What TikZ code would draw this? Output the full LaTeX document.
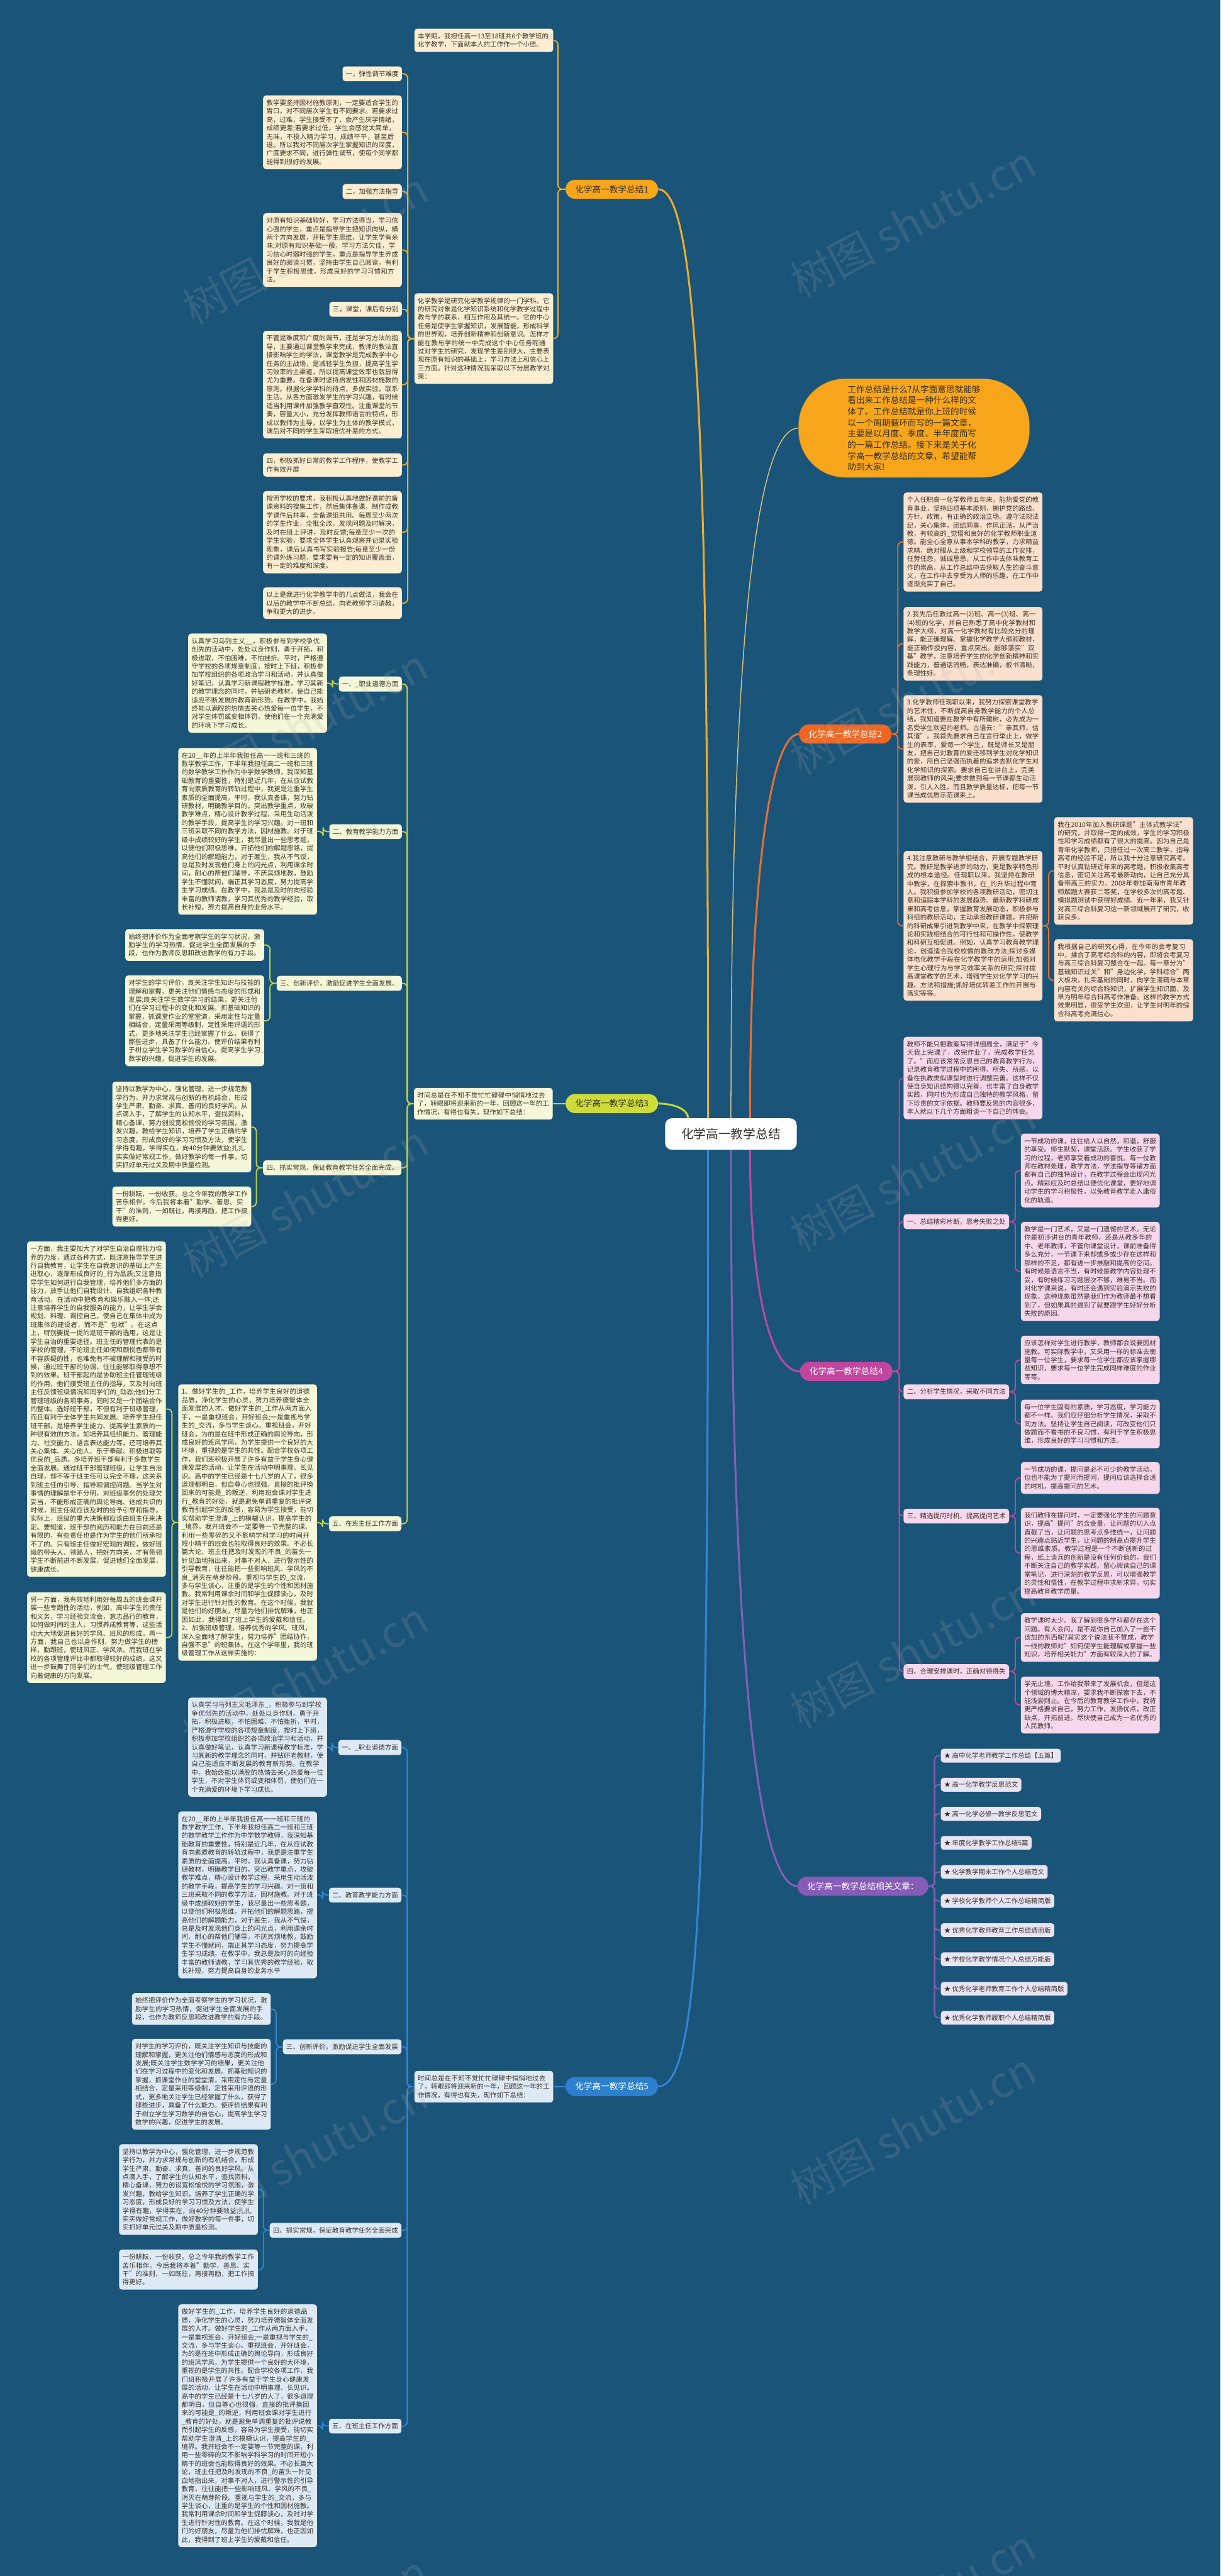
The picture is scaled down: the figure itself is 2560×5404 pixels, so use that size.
\documentclass[tikz,border=0pt]{standalone}
\usepackage{fontspec}
\setmainfont{Noto Sans CJK SC}
\XeTeXlinebreaklocale "zh"
\XeTeXlinebreakskip=0pt plus 1pt
\usetikzlibrary{calc,positioning}
\definecolor{bgblue}{RGB}{26,84,120}
\definecolor{txtdark}{RGB}{58,50,42}
\definecolor{or1}{RGB}{247,166,27}
\definecolor{ln1}{RGB}{240,172,40}
\definecolor{pl1}{RGB}{253,238,210}
\definecolor{or2}{RGB}{240,102,32}
\definecolor{ln2}{RGB}{232,112,48}
\definecolor{pl2}{RGB}{252,224,206}
\definecolor{gr3}{RGB}{205,220,57}
\definecolor{ln3}{RGB}{196,214,64}
\definecolor{pl3}{RGB}{244,247,216}
\definecolor{mg4}{RGB}{194,70,160}
\definecolor{ln4}{RGB}{190,72,162}
\definecolor{pl4}{RGB}{247,215,236}
\definecolor{pu5}{RGB}{135,92,184}
\definecolor{ln5}{RGB}{132,96,182}
\definecolor{pl5}{RGB}{232,228,243}
\definecolor{bl6}{RGB}{45,128,205}
\definecolor{ln6}{RGB}{52,134,212}
\definecolor{pl6}{RGB}{221,234,246}
\definecolor{calltan}{RGB}{214,190,128}
\tikzset{
  topic/.style={fill=white,text=txtdark,rounded corners=14pt,font=\fontsize{26}{30}\selectfont,inner xsep=34pt,minimum height=66pt},
  branch/.style={rounded corners=20pt,font=\fontsize{18}{22}\selectfont,inner xsep=20pt,minimum height=40pt},
  leaf/.style={rounded corners=6pt,text=txtdark,font=\fontsize{13.8}{17.7}\selectfont,inner xsep=7pt,inner ysep=9pt},
  para/.style={leaf,text width=277pt,align=left},
  item/.style={leaf,inner ysep=8pt,fill=pl5},
  callout/.style={fill=or1,draw=or1!80!black,rounded corners=98pt,minimum width=484pt,minimum height=207pt,text=txtdark!90!black,font=\fontsize{18}{23.3}\selectfont,align=left},
  trunk/.style={line width=4pt},
  twig/.style={line width=2.5pt,rounded corners=9pt},
  stamp/.style={text=gray!60,opacity=0.18,font=\fontsize{90}{90}\selectfont,rotate=28}
}
\begin{document}
\begin{tikzpicture}[x=1pt,y=-1pt]
  \fill[bgblue] (0,0) rectangle (2560,5404);
  \useasboundingbox (0,0) rectangle (2560,5404);

  % centre
  \node[topic] (cn) at (1533,2379) {化学高一教学总结};
  \node[callout] (call) at (1917,898) {工作总结是什么?从字面意思就能够\\看出来工作总结是一种什么样的文\\体了。工作总结就是你上班的时候\\以一个周期循环而写的一篇文章，\\主要是以月度、季度、半年度而写\\的一篇工作总结。接下来是关于化\\学高一教学总结的文章，希望能帮\\助到大家!};

  % branch 1
  \node[branch,fill=or1,text=txtdark,anchor=west] (b1) at (1186,397) {化学高一教学总结1};
  \node[para,fill=pl1,anchor=north west] (c1a) at (869,60) {本学期，我担任高一13至18班共6个教学班的化学教学，下面就本人的工作作一个小结。};
  \node[para,fill=pl1,anchor=north west] (c1b) at (869,615) {化学教学是研究化学教学规律的一门学科。它的研究对象是化学知识系统和化学教学过程中教与学的联系，相互作用及其统一。它的中心任务是使学生掌握知识，发展智能，形成科学的世界观，培养创新精神和创新意识。怎样才能在教与学的统一中完成这个中心任务呢通过对学生的研究，发现学生差别很大，主要表现在原有知识的基础上，学习方法上和信心上三方面。针对这种情况我采取以下分层教学对策：};
  \node[leaf,fill=pl1,anchor=north east] (h11) at (843,139) {一，弹性调节难度};
  \node[para,fill=pl1,anchor=north east] (p11) at (843,200) {教学要坚持因材施教原则，一定要适合学生的胃口，对不同层次学生有不同要求。若要求过高，过难，学生接受不了，会产生厌学情绪，成绩更差;若要求过低，学生会感觉太简单，无味，不投入精力学习，成绩平平，甚至后退。所以我对不同层次学生掌握知识的深度，广度要求不同，进行弹性调节，使每个同学都能得到很好的发展。};
  \node[leaf,fill=pl1,anchor=north east] (h12) at (843,386) {二，加强方法指导};
  \node[para,fill=pl1,anchor=north east] (p12) at (843,447) {对原有知识基础较好，学习方法得当，学习信心强的学生，重点是指导学生把知识向纵，横两个方向发展，开拓学生思维，让学生学有余味;对原有知识基础一般，学习方法欠佳，学习信心时弱时强的学生，重点是指导学生养成良好的阅读习惯，坚持由学生自己阅读，有利于学生积极思维，形成良好的学习习惯和方法。};
  \node[leaf,fill=pl1,anchor=north east] (h13) at (843,633) {三，课堂，课后有分别};
  \node[para,fill=pl1,anchor=north east] (p13) at (843,694) {不管是难度和广度的调节，还是学习方法的指导，主要通过课堂教学来完成，教师的教法直接影响学生的学法，课堂教学是完成教学中心任务的主战场，是减轻学生负担，提高学生学习效率的主渠道，所以提高课堂效率也就显得尤为重要。在备课时坚持启发性和因材施教的原则，根据化学学科的待点，多做实验，联系生活，从各方面激发学生的学习兴趣，有时候适当利用课件加强教学直观性。注重课堂的节奏，容量大小，充分发挥教师语言的特点，形成以教师为主导，以学生为主体的教学模式，课后对不同的学生采取培优补差的方式。};
  \node[para,fill=pl1,anchor=north east] (h14) at (843,951) {四，积极抓好日常的教学工作程序，使教学工作有效开展};
  \node[para,fill=pl1,anchor=north east] (p14) at (843,1030) {按照学校的要求，我积极认真地做好课前的备课资料的搜集工作，然后集体备课，制作成教学课件后共享，全备课组共用。每周至少两次的学生作业，全批全改，发现问题及时解决，及时在班上评讲，及时反馈;每章至少一次的学生实验，要求全体学生认真观察并记录实验现象，课后认真书写实验报告;每章至少一份的课外练习题，要求要有一定的知识覆盖面，有一定的难度和深度。};
  \node[para,fill=pl1,anchor=north east] (p15) at (843,1232) {以上是我进行化学教学中的几点做法，我会在以后的教学中不断总结，向老教师学习请教，争取更大的进步。};

  % branch 2
  \node[branch,fill=or2,text=white,anchor=east] (b2) at (1870,1540) {化学高一教学总结2};
  \node[para,fill=pl2,anchor=north west] (c2a) at (1895,1033) {个人任职高一化学教师五年来，能热爱党的教育事业，坚持四项基本原则，拥护党的路线、方针、政策，有正确的政治立场。遵守法规法纪，关心集体，团结同事，作风正派，从严治教，有较高的\_觉悟和良好的化学教师职业道德。能全心全意从事本学科的教学，力求精益求精，绝对服从上级和学校领导的工作安排，任劳任怨，诚诚恳恳，从工作中去体味教育工作的崇高，从工作总结中去获取人生的奋斗意义，在工作中去享受为人师的乐趣，在工作中逐渐充实了自己。};
  \node[para,fill=pl2,anchor=north west] (c2b) at (1895,1273) {2.我先后任教过高一(2)班、高一(3)班、高一(4)班的化学，并自己熟悉了高中化学教材和教学大纲，对高一化学教材有比较充分的理解，能正确理解、掌握化学教学大纲和教材，能正确传授内容，重点突出。能够落实"双基"教学，注意培养学生的化学创新精神和实践能力，普通话流畅，表达准确，板书清晰，条理性好。};
  \node[para,fill=pl2,anchor=north west] (c2c) at (1895,1458) {3.化学教师任现职以来，我努力探索课堂教学的艺术性，不断提高自身教学能力的个人总结。我知道要在教学中有所建树，必先成为一名受学生欢迎的老师。古语云："亲其师，信其道"。我首先要求自己在言行举止上，做学生的表率，爱每一个学生，既是师长又是朋友，把自己对教育的爱迁移到学生对化学知识的爱，用自己坚强而执着的追求去默化学生对化学知识的探索。要求自己在讲台上，完美展现教师的风采;要求做到每一节课都生动活泼，引人入胜，而且教学质量达标，把每一节课当成优质示范课来上。};
  \node[para,fill=pl2,anchor=north west] (c2d) at (1895,1785) {4.我注意教研与教学相结合，开展专题教学研究。教研是教学进步的动力，更是教学特色形成的根本途径。任现职以来，我坚持在教研中教学，在探索中教书，在\_的升华过程中育人。我积极参加学校的各项教研活动，密切注意和追踪本学科的发展趋势、最新教学科研成果和高考信息，掌握教育发展动态，积极参与科组的教研活动，主动承担教研课题，并把新的科研成果引进到教学中来，在教学中探索理论和实践相结合的可行性和可操作性，使教学和科研互相促进。例如，认真学习教育教学理论，创造适合我校校情的教改方法;探讨多媒体电化教学手段在化学教学中的运用;加强对学生心理行为与学习效率关系的研究;探讨提高课堂教学的艺术，增强学生对化学学习的兴趣、方法和措施;抓好培优转差工作的开展与落实等等。};
  \node[para,fill=pl2,anchor=north west] (c2e) at (2211,1714) {我在2010年加入教研课题"主体式教学法"的研究，并取得一定的成效，学生的学习积极性和学习成绩都有了很大的提高。因为自己是青年化学教师，只担任过一次高二教学，指导高考的经验不足，所以我十分注意研究高考。平时认真钻研近年来的高考题，积极收集高考信息，密切关注高考最新动向，让自己充分具备带高三的实力。2008年参加南海市青年教师解题大赛获二等奖，在学校多次的高考题、模拟题测试中获得好成绩。近一年来，我又针对高三综合科复习这一新领域展开了研究，收获良多。};
  \node[para,fill=pl2,anchor=north west] (c2f) at (2211,1970) {我根据自己的研究心得，在今年的会考复习中，揉合了高考综合科的内容，即将会考复习与高三综合科复习整合在一起。每一章分为"基础知识过关"和"身边化学，学科综合"两大板块，扎实基础的同时，向学生灌疏与本章内容有关的综合科知识，扩展学生知识面，及早为明年综合科高考作准备。这样的教学方式效果明显，很受学生欢迎，让学生对明年的综合科高考充满信心。};

  % branch 3
  \node[branch,fill=gr3,text=txtdark,anchor=west] (b3) at (1186,2315) {化学高一教学总结3};
  \node[para,fill=pl3,anchor=north west] (i3) at (868,2282) {时间总是在不知不觉忙忙碌碌中悄悄地过去了，转眼即将迎来新的一年，回顾这一年的工作情况，有得也有失，现作如下总结：};
  \node[leaf,fill=pl3,anchor=north east] (h31) at (843,1419) {一、\_职业道德方面};
  \node[para,fill=pl3,anchor=north east] (p31) at (686,1329) {认真学习马列主义\_\_，积极参与到学校争优创先的活动中，处处以身作则，勇于开拓，积极进取，不怕困难，不怕挫折。平时，严格遵守学校的各项规章制度，按时上下班，积极参加学校组织的各项政治学习和活动，并认真做好笔记，认真学习新课程教学标准，学习其新的教学理念的同时，并钻研老教材，使自己能适应不断发展的教育新形势。在教学中，我始终能以满腔的热情去关心热爱每一位学生，不对学生体罚或变相体罚，使他们在一个充满爱的环境下学习成长。};
  \node[leaf,fill=pl3,anchor=north east] (h32) at (843,1729) {二、教育教学能力方面};
  \node[para,fill=pl3,anchor=north east] (p32) at (665,1569) {在20\_\_年的上半年我担任高一一班和三班的数学教学工作，下半年我担任高二一班和三班的数学教学工作作为中学数学教师，我深知基础教育的重要性，特别是近几年，在从应试教育向素质教育的转轨过程中，我更是注重学生素质的全面提高。平时，我认真备课，努力钻研教材，明确教学目的，突出教学重点，攻破教学难点，精心设计教学过程，采用生动活泼的教学手段，提高学生的学习兴趣。对一班和三班采取不同的教学方法，因材施教。对于班级中成绩较好的学生，我尽量出一些思考题，以便他们积极思维，开拓他们的解题思路，提高他们的解题能力，对于差生，我从不气馁，总是及时发现他们身上的闪光点，利用课余时间，耐心的帮他们辅导，不厌其烦地教，鼓励学生不懂就问，端正其学习态度，努力提高学生学习成绩。在教学中，我总是及时的向经验丰富的教师请教，学习其优秀的教学经验，取长补短，努力提高自身的业务水平。};
  \node[leaf,fill=pl3,anchor=north east] (h33) at (843,2047) {三、创新评价，激励促进学生全面发展。};
  \node[para,fill=pl3,anchor=north east] (p33a) at (554,1949) {始终把评价作为全面考察学生的学习状况，激励学生的学习热情，促进学生全面发展的手段，也作为教师反思和改进教学的有力手段。};
  \node[para,fill=pl3,anchor=north east] (p33b) at (554,2046) {对学生的学习评价，既关注学生知识与技能的理解和掌握，更关注他们情感与态度的形成和发展;既关注学生数学学习的结果，更关注他们在学习过程中的变化和发展。抓基础知识的掌握，抓课堂作业的堂堂清，采用定性与定量相结合，定量采用等级制，定性采用评语的形式，更多地关注学生已经掌握了什么，获得了那些进步，具备了什么能力。使评价结果有利于树立学生学习数学的自信心，提高学生学习数学的兴趣，促进学生的发展。};
  \node[leaf,fill=pl3,anchor=north east] (h34) at (842,2434) {四、抓实常规，保证教育教学任务全面完成。};
  \node[para,fill=pl3,anchor=north east] (p34a) at (527,2269) {坚持以教学为中心，强化管理，进一步规范教学行为，并力求常规与创新的有机结合，形成学生严肃、勤奋、求真、善问的良好学风。从点滴入手，了解学生的认知水平，查找资料，精心备课，努力创设宽松愉悦的学习氛围，激发兴趣，教给学生知识，培养了学生正确的学习态度，形成良好的学习习惯及方法，使学生学得有趣，学得实在，向40分钟要效益;扎扎实实做好常规工作，做好教学的每一件事，切实抓好单元过关及期中质量检测。};
  \node[para,fill=pl3,anchor=north east] (p34b) at (527,2489) {一份耕耘，一份收获。总之今年我的教学工作苦乐相伴。今后我将本着"勤学、善思、实干"的准则，一如既往，再接再励，把工作搞得更好。};
  \node[leaf,fill=pl3,anchor=north east] (h35) at (842,3181) {五、在班主任工作方面};
  \node[para,fill=pl3,anchor=north east] (p35) at (665,2904) {1、做好学生的\_工作，培养学生良好的道德品质，净化学生的心灵，努力培养德智体全面发展的人才。做好学生的\_工作从两方面入手，一是重视班会，开好班会;一是重视与学生的\_交流，多与学生谈心。重视班会，开好班会，为的是在班中形成正确的舆论导向，形成良好的班风学风，为学生提供一个良好的大环境，重视的是学生的共性。配合学校各项工作，我们班积极开展了许多有益于学生身心健康发展的活动，让学生在活动中明事理、长见识。高中的学生已经是十七八岁的人了，很多道理都明白，但自尊心也很强，直接的批评换回来的可能是\_的叛逆，利用班会课对学生进行\_教育的好处，就是避免单调重复的批评说教而引起学生的反感，容易为学生接受，能切实帮助学生澄清\_上的模糊认识，提高学生的\_境界。我开班会不一定要等一节完整的课，利用一些零碎的又不影响学科学习的时间开短小精干的班会也能取得良好的效果。不必长篇大论，班主任把及时发现的不良\_的苗头一针见血地指出来，对事不对人，进行警示性的引导教育，往往能把一些影响班风、学风的不良\_消灭在萌芽阶段。重视与学生的\_交流，多与学生谈心，注重的是学生的个性和因材施教。我常利用课余时间和学生促膝谈心，及时对学生进行针对性的教育。在这个时候，我就是他们的好朋友，尽量为他们排忧解难，也正因如此，我得到了班上学生的爱戴和信任。2、加强班级管理，培养优秀的学风、班风，深入全面地了解学生，努力培养"团结协作，自强不息"的班集体。在这个学年里，我的班级管理工作从这样实施的：};
  \node[para,fill=pl3,anchor=north east] (p35a) at (348,2604) {一方面，我主要加大了对学生自治自理能力培养的力度，通过各种方式，既注意指导学生进行自我教育，让学生在自我意识的基础上产生进取心，逐渐形成良好的\_行为品质;又注意指导学生如何进行自我管理，培养他们多方面的能力，放手让他们自我设计、自我组织各种教育活动，在活动中把教育和娱乐融入一体;还注意培养学生的自我服务的能力，让学生学会规划、料理、调控自己，使自己在集体中成为班集体的建设者，而不是"包袱"。在这点上，特别要提一提的是班干部的选用，这是让学生自治的重要途径。班主任的管理代表的是学校的管理，不论班主任如何和颜悦色都带有不容质疑的性，也难免有不被理解和接受的时候，通过班干部的协调，往往能够取得意想不到的效果。班干部起的是协助班主任管理班级的作用，他们接受班主任的指导，又及时向班主任反馈班级情况和同学们的\_动态;他们分工管理班级的各项事务，同时又是一个团结合作的整体。选好班干部，不但有利于班级管理，而且有利于全体学生共同发展。培养学生担任班干部，是培养学生能力、提高学生素质的一种很有效的方法，如培养其组织能力、管理能力、社交能力、语言表达能力等，还可培养其关心集体、关心他人、乐于奉献、积极进取等优良的\_品质。多培养班干部有利于多数学生全面发展。通过班干部管理班级，让学生自治自理，却不等于班主任可以完全不理，这关系到班主任的引导、指导和调控问题。当学生对事情的理解是非不分明，对班级事务的处理欠妥当，不能形成正确的舆论导向、达成共识的时候，班主任就应该及时的给予引导和指导。实际上，班级的重大决策都应该由班主任来决定。要知道，班干部的阅历和能力在目前还是有限的，有些责任也是作为学生的他们所承担不了的。只有班主任做好宏观的调控，做好班级的带头人、领路人，把好方向关，才有带领学生不断前进不断发展，促进他们全面发展，健康成长。};
  \node[para,fill=pl3,anchor=north east] (p35b) at (348,3340) {另一方面，我有效地利用好每周五的班会课开展一些专题性的活动，例如，高中学生的责任和义务，学习经验交流会，意志品行的教育，如何做时间的主人，习惯养成教育等，这些活动大大地促进良好的学风、班风的形成。再一方面，我自己也以身作则，努力做学生的榜样，勤跟班，使班风正、学风浓。而我班在学校的各项管理评比中都取得较好的成绩，这又进一步鼓舞了同学们的士气，使班级管理工作向着健康的方向发展。};

  % branch 4
  \node[branch,fill=mg4,text=white,anchor=east] (b4) at (1872,2877) {化学高一教学总结4};
  \node[para,fill=pl4,anchor=north west] (i4) at (1895,2175) {教师不能只把教案写得详细周全，满足于"今天我上完课了，改完作业了，完成教学任务了。"而应该常常反思自己的教育教学行为，记录教育教学过程中的所得、所失、所感，以备在执教类似课型时进行调整完善。这样不仅使自身知识结构得以完善，也丰富了自身教学实践，同时也为形成自己独特的教学风格，留下珍贵的文字依据。教师要反思的内容很多，本人就以下几个方面粗谈一下自己的体会。};
  \node[leaf,fill=pl4,anchor=north west] (h41) at (1895,2547) {一、总结精彩片断，思考失败之处};
  \node[para,fill=pl4,anchor=north west] (p41a) at (2141,2378) {一节成功的课，往往给人以自然，和谐，舒服的享受。师生默契，课堂活跃。学生收获了学习的过程，老师享受着成功的喜悦。每一位教师在教材处理，教学方法，学法指导等诸方面都有自己的独特设计，在教学过程会出现闪光点。精彩应及时总结以便优化课堂，更好地调动学生的学习积极性，以免教育教学走入庸俗化的轨道。};
  \node[para,fill=pl4,anchor=north west] (p41b) at (2141,2563) {教学是一门艺术，又是一门遗憾的艺术。无论你是初涉讲台的青年教师，还是从教多年的中、老年教师，不管你课堂设计，课前准备得多么充分，一节课下来却或多或少存在这样和那样的不足，都有进一步推敲和提高的空间。有时候是语言不当，有时候是教学内容处理不妥，有时候练习习题层次不够，难易不当。而对化学课来说，有时还会遇到实验演示失败的现象，这种现象虽然是我们作为教师最不想看到了，但如果真的遇到了就要跟学生好好分析失败的原因。};
  \node[leaf,fill=pl4,anchor=north west] (h42) at (1895,2904) {二、分析学生情况，采取不同方法};
  \node[para,fill=pl4,anchor=north west] (p42a) at (2141,2802) {应该怎样对学生进行教学，教师都会说要因材施教。可实际教学中，又采用一样的标准去衡量每一位学生，要求每一位学生都应该掌握哪些知识，要求每一位学生完成同样难度的作业等等。};
  \node[para,fill=pl4,anchor=north west] (p42b) at (2141,2936) {每一位学生固有的素质，学习态度，学习能力都不一样。我们应仔细分析学生情况，采取不同方法。坚持让学生自己阅读，可改变他们只做题而不看书的不良习惯，有利于学生积极思维，形成良好的学习习惯和方法。};
  \node[leaf,fill=pl4,anchor=north west] (h43) at (1895,3165) {三、精选提问时机、提高提问艺术};
  \node[para,fill=pl4,anchor=north west] (p43a) at (2141,3067) {一节成功的课，提问是必不可少的教学活动，但也不能为了提问而提问，提问应该选择合适的时机，提高提问的艺术。};
  \node[para,fill=pl4,anchor=north west] (p43b) at (2141,3163) {我们教师在提问时，一定要强化学生的问题意识，提高"提问"的含金量，让问题的切入点直截了当，让问题的思考点多维统一，让问题的兴趣点贴近学生，让问题的制高点提升学生的思维素质。教学过程是一个不断创新的过程，纸上谈兵的创新是没有任何价值的，我们不断关注自己的教学实践，留心阅读自己的课堂笔记，进行深刻的教学反思，可以增强教学的灵性和悟性，在教学过程中求新求异，切实提高教育教学质量。};
  \node[leaf,fill=pl4,anchor=north west] (h44) at (1895,3491) {四、合理安排课时，正确对待得失};
  \node[para,fill=pl4,anchor=north west] (p44a) at (2141,3384) {教学课时太少。我了解到很多学科都存在这个问题。有人会问，是不是你自己加入了一些不该加的东西呢?其实这个说法我不赞成，教学一线的教师对"如何使学生能理解或掌握一些知识，培养相关能力"方面有较深入的了解。};
  \node[para,fill=pl4,anchor=north west] (p44b) at (2141,3517) {学无止境，工作给我带来了发展机会，但是这个领域的博大精深，要求我不断探索下去，不能浅尝则止。在今后的教育教学工作中，我将更严格要求自己，努力工作，发扬优点，改正缺点，开拓前进。尽快使自己成为一名优秀的人民教师。};

  % branch 5: related articles
  \node[branch,fill=pu5,text=white,anchor=east] (b5) at (1947,3957) {化学高一教学总结相关文章：};
  \node[item,anchor=west] (it1) at (1973,3683) {★ 高中化学老师教学工作总结【五篇】};
  \node[item,anchor=west] (it2) at (1973,3744) {★ 高一化学教学反思范文};
  \node[item,anchor=west] (it3) at (1973,3805) {★ 高一化学必修一教学反思范文};
  \node[item,anchor=west] (it4) at (1973,3866) {★ 年度化学教学工作总结5篇};
  \node[item,anchor=west] (it5) at (1973,3927) {★ 化学教学期末工作个人总结范文};
  \node[item,anchor=west] (it6) at (1973,3988) {★ 学校化学教师个人工作总结精简版};
  \node[item,anchor=west] (it7) at (1973,4049) {★ 优秀化学教师教育工作总结通用版};
  \node[item,anchor=west] (it8) at (1973,4110) {★ 学校化学教学情况个人总结万能版};
  \node[item,anchor=west] (it9) at (1973,4172) {★ 优秀化学老师教育工作个人总结精简版};
  \node[item,anchor=west] (it10) at (1973,4233) {★ 优秀化学教师履职个人总结精简版};

  % branch 6
  \node[branch,fill=bl6,text=white,anchor=west] (b6) at (1186,4377) {化学高一教学总结5};
  \node[para,fill=pl6,anchor=north west] (i6) at (869,4344) {时间总是在不知不觉忙忙碌碌中悄悄地过去了，转眼即将迎来新的一年，回顾这一年的工作情况，有得也有失，现作如下总结：};
  \node[leaf,fill=pl6,anchor=north east] (h61) at (842,3650) {一、\_职业道德方面};
  \node[para,fill=pl6,anchor=north east] (p61) at (686,3561) {认真学习马列主义毛泽东\_，积极参与到学校争优创先的活动中，处处以身作则，勇于开拓，积极进取，不怕困难，不怕挫折，平时，严格遵守学校的各项规章制度，按时上下班，积极参加学校组织的各项政治学习和活动，并认真做好笔记，认真学习新课程教学标准，学习其新的教学理念的同时，并钻研老教材，使自己能适应不断发展的教育新形势。在教学中，我始终能以满腔的热情去关心热爱每一位学生，不对学生体罚或变相体罚，使他们在一个充满爱的环境下学习成长。};
  \node[leaf,fill=pl6,anchor=north east] (h62) at (842,3960) {二、教育教学能力方面};
  \node[para,fill=pl6,anchor=north east] (p62) at (665,3800) {在20\_\_年的上半年我担任高一一班和三班的数学教学工作，下半年我担任高二一班和三班的数学教学工作作为中学数学教师，我深知基础教育的重要性，特别是近几年，在从应试教育向素质教育的转轨过程中，我更是注重学生素质的全面提高。平时，我认真备课，努力钻研教材，明确教学目的，突出教学重点，攻破教学难点，精心设计教学过程，采用生动活泼的教学手段，提高学生的学习兴趣。对一班和三班采取不同的教学方法，因材施教。对于班级中成绩较好的学生，我尽量出一些思考题，以便他们积极思维，开拓他们的解题思路，提高他们的解题能力，对于差生，我从不气馁，总是及时发现他们身上的闪光点，利用课余时间，耐心的帮他们辅导，不厌其烦地教，鼓励学生不懂就问，端正其学习态度，努力提高学生学习成绩。在教学中，我总是及时的向经验丰富的教师请教，学习其优秀的教学经验，取长补短，努力提高自身的业务水平};
  \node[leaf,fill=pl6,anchor=north east] (h63) at (842,4278) {三、创新评价，激励促进学生全面发展};
  \node[para,fill=pl6,anchor=north east] (p63a) at (568,4181) {始终把评价作为全面考察学生的学习状况，激励学生的学习热情，促进学生全面发展的手段，也作为教师反思和改进教学的有力手段。};
  \node[para,fill=pl6,anchor=north east] (p63b) at (568,4277) {对学生的学习评价，既关注学生知识与技能的理解和掌握，更关注他们情感与态度的形成和发展;既关注学生数学学习的结果，更关注他们在学习过程中的变化和发展。抓基础知识的掌握，抓课堂作业的堂堂清，采用定性与定量相结合，定量采用等级制，定性采用评语的形式，更多地关注学生已经掌握了什么，获得了那些进步，具备了什么能力。使评价结果有利于树立学生学习数学的自信心，提高学生学习数学的兴趣，促进学生的发展。};
  \node[leaf,fill=pl6,anchor=north east] (h64) at (842,4663) {四、抓实常规，保证教育教学任务全面完成};
  \node[para,fill=pl6,anchor=north east] (p64a) at (541,4498) {坚持以教学为中心，强化管理，进一步规范教学行为，并力求常规与创新的有机结合，形成学生严肃、勤奋、求真、善问的良好学风。从点滴入手，了解学生的认知水平，查找资料，精心备课，努力创设宽松愉悦的学习氛围，激发兴趣，教给学生知识，培养了学生正确的学习态度，形成良好的学习习惯及方法，使学生学得有趣，学得实在，向40分钟要效益;扎扎实实做好常规工作，做好教学的每一件事，切实抓好单元过关及期中质量检测。};
  \node[para,fill=pl6,anchor=north east] (p64b) at (541,4719) {一份耕耘，一份收获。总之今年我的教学工作苦乐相伴。今后我将本着"勤学、善思、实干"的准则，一如既往，再接再励，把工作搞得更好。};
  \node[leaf,fill=pl6,anchor=north east] (h65) at (842,5074) {五、在班主任工作方面};
  \node[para,fill=pl6,anchor=north east] (p65) at (665,4834) {做好学生的\_工作，培养学生良好的道德品质，净化学生的心灵，努力培养德智体全面发展的人才。做好学生的\_工作从两方面入手，一是重视班会，开好班会;一是重视与学生的\_交流，多与学生谈心。重视班会，开好班会，为的是在班中形成正确的舆论导向，形成良好的班风学风，为学生提供一个良好的大环境，重视的是学生的共性。配合学校各项工作，我们班积极开展了许多有益于学生身心健康发展的活动，让学生在活动中明事理、长见识。高中的学生已经是十七八岁的人了，很多道理都明白，但自尊心也很强，直接的批评换回来的可能是\_的叛逆，利用班会课对学生进行\_教育的好处，就是避免单调重复的批评说教而引起学生的反感，容易为学生接受，能切实帮助学生澄清\_上的模糊认识，提高学生的\_境界。我开班会不一定要等一节完整的课，利用一些零碎的又不影响学科学习的时间开短小精干的班会也能取得良好的效果。不必长篇大论，班主任把及时发现的不良\_的苗头一针见血地指出来，对事不对人，进行警示性的引导教育，往往能把一些影响班风、学风的不良\_消灭在萌芽阶段。重视与学生的\_交流，多与学生谈心，注重的是学生的个性和因材施教。我常利用课余时间和学生促膝谈心，及时对学生进行针对性的教育。在这个时候，我就是他们的好朋友，尽量为他们排忧解难，也正因如此，我得到了班上学生的爱戴和信任。};

  % trunks from the centre
  \draw[trunk,ln1] ([xshift=-48pt]cn.north) .. controls +(0,-1300) and +(90,0) .. (b1.east);
  \draw[line width=2pt,calltan] (cn.north) .. controls +(0,-1000) and +(-90,0) .. (call.west);
  \draw[trunk,ln2] ([xshift=40pt]cn.north) .. controls +(0,-500) and +(-60,0) .. (b2.west);
  \draw[trunk,ln3] ([xshift=-90pt]cn.north) .. controls +(0,-20) and +(30,0) .. (b3.east);
  \draw[trunk,ln4] ([xshift=40pt]cn.south) .. controls +(0,300) and +(-60,0) .. (b4.west);
  \draw[trunk,ln5] (cn.south) .. controls +(0,1100) and +(-80,0) .. (b5.west);
  \draw[trunk,ln6] ([xshift=-48pt]cn.south) .. controls +(0,1500) and +(90,0) .. (b6.east);

  % branch 1 twigs
  \draw[twig,ln1] (b1.west) -- ++(-16,0) |- (c1a.east);
  \draw[twig,ln1] (b1.west) -- ++(-16,0) |- (c1b.east);
  \draw[twig,ln1] (c1b.west) -- ++(-14,0) |- (h11.east);
  \draw[twig,ln1] (c1b.west) -- ++(-14,0) |- (p11.east);
  \draw[twig,ln1] (c1b.west) -- ++(-14,0) |- (h12.east);
  \draw[twig,ln1] (c1b.west) -- ++(-14,0) |- (p12.east);
  \draw[twig,ln1] (c1b.west) -- ++(-14,0) |- (h13.east);
  \draw[twig,ln1] (c1b.west) -- ++(-14,0) |- (p13.east);
  \draw[twig,ln1] (c1b.west) -- ++(-14,0) |- (h14.east);
  \draw[twig,ln1] (c1b.west) -- ++(-14,0) |- (p14.east);
  \draw[twig,ln1] (c1b.west) -- ++(-14,0) |- (p15.east);

  % branch 2 twigs
  \draw[twig,ln2] (b2.east) -- ++(13,0) |- (c2a.west);
  \draw[twig,ln2] (b2.east) -- ++(13,0) |- (c2b.west);
  \draw[twig,ln2] (b2.east) -- ++(13,0) |- (c2c.west);
  \draw[twig,ln2] (b2.east) -- ++(13,0) |- (c2d.west);
  \draw[twig,ln2] (c2d.east) -- ++(13,0) |- (c2e.west);
  \draw[twig,ln2] (c2d.east) -- ++(13,0) |- (c2f.west);

  % branch 3 twigs
  \draw[twig,ln3] (b3.west) -- (b3.west -| i3.east);
  \draw[twig,ln3] (i3.west) -- ++(-14,0) |- (h31.east);
  \draw[twig,ln3] (i3.west) -- ++(-14,0) |- (h32.east);
  \draw[twig,ln3] (i3.west) -- ++(-14,0) |- (h33.east);
  \draw[twig,ln3] (i3.west) -- ++(-14,0) |- (h34.east);
  \draw[twig,ln3] (i3.west) -- ++(-14,0) |- (h35.east);
  \draw[twig,ln3] (h31.west) -- ++(-13,0) |- (p31.east);
  \draw[twig,ln3] (h32.west) -- ++(-13,0) |- (p32.east);
  \draw[twig,ln3] (h33.west) -- ++(-14,0) |- (p33a.east);
  \draw[twig,ln3] (h33.west) -- ++(-14,0) |- (p33b.east);
  \draw[twig,ln3] (h34.west) -- ++(-14,0) |- (p34a.east);
  \draw[twig,ln3] (h34.west) -- ++(-14,0) |- (p34b.east);
  \draw[twig,ln3] (h35.west) -- ++(-13,0) |- (p35.east);
  \draw[twig,ln3] (p35.west) -- ++(-13,0) |- (p35a.east);
  \draw[twig,ln3] (p35.west) -- ++(-13,0) |- (p35b.east);

  % branch 4 twigs
  \draw[twig,ln4] (b4.east) -- ++(14,0) |- (i4.west);
  \draw[twig,ln4] (b4.east) -- ++(14,0) |- (h41.west);
  \draw[twig,ln4] (b4.east) -- ++(14,0) |- (h42.west);
  \draw[twig,ln4] (b4.east) -- ++(14,0) |- (h43.west);
  \draw[twig,ln4] (b4.east) -- ++(14,0) |- (h44.west);
  \draw[twig,ln4] (h41.east) -- ++(13,0) |- (p41a.west);
  \draw[twig,ln4] (h41.east) -- ++(13,0) |- (p41b.west);
  \draw[twig,ln4] (h42.east) -- ++(13,0) |- (p42a.west);
  \draw[twig,ln4] (h42.east) -- ++(13,0) |- (p42b.west);
  \draw[twig,ln4] (h43.east) -- ++(13,0) |- (p43a.west);
  \draw[twig,ln4] (h43.east) -- ++(13,0) |- (p43b.west);
  \draw[twig,ln4] (h44.east) -- ++(13,0) |- (p44a.west);
  \draw[twig,ln4] (h44.east) -- ++(13,0) |- (p44b.west);

  % branch 5 twigs
  \foreach \n in {1,...,10}
    \draw[twig,ln5] (b5.east) -- ++(13,0) |- (it\n.west);

  % branch 6 twigs
  \draw[twig,ln6] (b6.west) -- (b6.west -| i6.east);
  \draw[twig,ln6] (i6.west) -- ++(-15,0) |- (h61.east);
  \draw[twig,ln6] (i6.west) -- ++(-15,0) |- (h62.east);
  \draw[twig,ln6] (i6.west) -- ++(-15,0) |- (h63.east);
  \draw[twig,ln6] (i6.west) -- ++(-15,0) |- (h64.east);
  \draw[twig,ln6] (i6.west) -- ++(-15,0) |- (h65.east);
  \draw[twig,ln6] (h61.west) -- ++(-13,0) |- (p61.east);
  \draw[twig,ln6] (h62.west) -- ++(-13,0) |- (p62.east);
  \draw[twig,ln6] (h63.west) -- ++(-14,0) |- (p63a.east);
  \draw[twig,ln6] (h63.west) -- ++(-14,0) |- (p63b.east);
  \draw[twig,ln6] (h64.west) -- ++(-13,0) |- (p64a.east);
  \draw[twig,ln6] (h64.west) -- ++(-13,0) |- (p64b.east);
  \draw[twig,ln6] (h65.west) -- ++(-13,0) |- (p65.east);

  % watermarks
  \foreach \k in {0,...,5} {
    \node[stamp] (wl\k) at (640,{520+1000*\k}) {树图 shutu.cn};
    \node[stamp] (wr\k) at (1915,{465+1000*\k}) {树图 shutu.cn};
  }
\end{tikzpicture}
\end{document}
